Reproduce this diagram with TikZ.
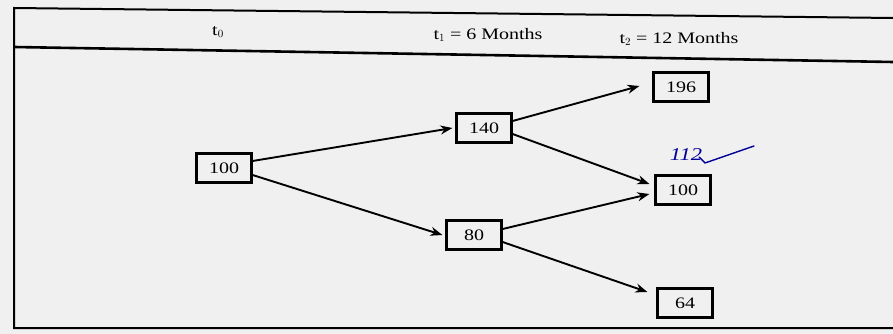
\documentclass[tikz,border=0pt]{standalone}
\usepackage{fontspec}
\setmainfont{Liberation Serif}[FakeStretch=1.25]
\usetikzlibrary{arrows.meta}
\begin{document}
\begin{tikzpicture}[x=1pt,y=-1pt,
  valbox/.style={draw,line width=2.2pt,minimum width=55pt,minimum height=29pt,inner sep=0pt,font=\fontsize{16}{16}\selectfont},
  conn/.style={line width=1.9pt,-{Stealth[length=12pt,width=9pt]}},
  hdr/.style={font=\fontsize{16}{16}\selectfont,anchor=center}]
\fill[gray!12] (0,0) rectangle (893,334);
\useasboundingbox (0,0) rectangle (893,334);
\draw[line width=2pt] (893,18) -- (14,8) -- (14,328) -- (893,328);
\draw[line width=2.6pt] (14,47) -- (893,62);
\node[hdr] (h0) at (218,32) {t$_0$};
\node[hdr] (h1) at (488,35) {t$_1$ = 6 Months};
\node[hdr] (h2) at (679,39) {t$_2$ = 12 Months};
\node[valbox] (a) at (224,168) {100};
\node[valbox] (b) at (484,128) {140};
\node[valbox] (c) at (474,235) {80};
\node[valbox] (d) at (681,87) {196};
\node[valbox] (e) at (683,190) {100};
\node[valbox] (f) at (685,303) {64};
\draw[conn] (a.east) ++(0,-7) -- ([xshift=-3pt]b.west);
\draw[conn] (a.east) ++(0,7) -- ([xshift=-3pt]c.west);
\draw[conn] (b.east) ++(0,-7) -- ([xshift=-13pt,yshift=1pt]d.west);
\draw[conn] (b.east) ++(0,6) -- ([xshift=-5pt,yshift=6pt]e.west);
\draw[conn] (c.east) ++(0,-6) -- ([xshift=-5pt,yshift=-4pt]e.west);
\draw[conn] (c.east) ++(0,7) -- ([xshift=-9pt,yshift=11pt]f.west);
\node[text=blue!60!black,font=\itshape\fontsize{18}{18}\selectfont] (hw) at (686,155) {112};
\draw[blue!60!black,line width=1.4pt,line cap=round] (699,157) -- (705,163) -- (754,146);
\end{tikzpicture}
\end{document}
